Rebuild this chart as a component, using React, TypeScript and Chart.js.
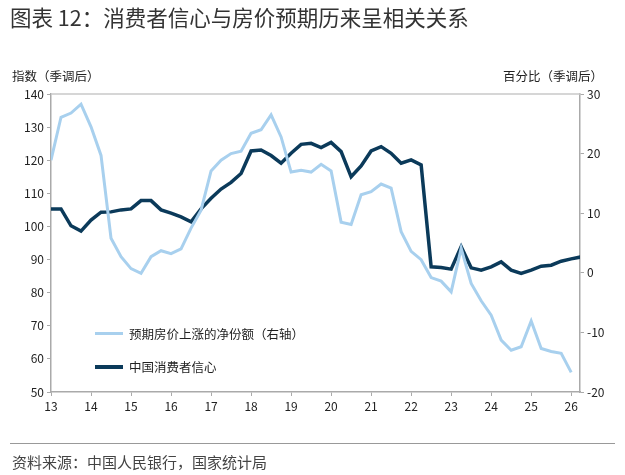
import React, { useEffect, useRef } from "react";
import { Chart, registerables } from "chart.js";
Chart.register(...registerables);

const startYear = 13;
const step = 0.25;
const confidence = [105.3,105.3,100.2,98.6,101.9,104.3,104.4,105.0,105.3,107.8,107.8,105.0,104.0,102.9,101.4,105.3,108.5,111.3,113.3,116.0,122.8,123.1,121.4,119.1,122.1,124.8,125.1,123.8,125.4,122.6,115.0,118.3,122.8,124.1,122.1,119.1,120.1,118.6,87.8,87.6,87.1,93.9,87.5,86.8,87.8,89.3,86.8,85.8,86.8,88.0,88.3,89.5,90.2,90.8];
const expectation = [18.9,26.1,26.8,28.3,24.5,19.7,5.8,2.7,0.7,-0.1,2.7,3.7,3.2,4.0,7.5,10.5,17.1,18.9,20.0,20.4,23.4,24.0,26.5,22.8,16.9,17.2,16.9,18.2,17.1,8.5,8.1,13.1,13.6,14.9,14.2,6.9,3.6,2.2,-0.8,-1.4,-3.2,4.1,-1.8,-4.7,-7.1,-11.3,-13.0,-12.4,-8.1,-12.7,-13.2,-13.5,-16.7];
const xTicks = [13,14,15,16,17,18,19,20,21,22,23,24,25,26];
const labelExp = "预期房价上涨的净份额（右轴）";
const labelConf = "中国消费者信心";
const DARK = "#0b3a5a";
const LIGHT = "#a8d0ee";
const FONT = "'Noto Sans CJK SC', 'Noto Sans', sans-serif";

export default function App() {
  const ref = useRef<HTMLCanvasElement>(null);
  useEffect(() => {
    const toPts = (a: number[]) => a.map((v, i) => ({ x: startYear + i * step, y: v }));
    const frame = {
      id: "frame",
      afterDraw(c: any) {
        const { ctx, chartArea: a } = c;
        ctx.save();
        ctx.strokeStyle = "#c8c8c8";
        ctx.lineWidth = 1.5;
        ctx.beginPath();
        ctx.moveTo(a.left, a.top);
        ctx.lineTo(a.right, a.top);
        ctx.stroke();
        ctx.restore();
      },
    };
    const chart = new Chart(ref.current!, {
      type: "line",
      data: {
        datasets: [
          { label: labelExp, data: toPts(expectation), yAxisID: "y1", borderColor: LIGHT, borderWidth: 3, pointRadius: 0, tension: 0 },
          { label: labelConf, data: toPts(confidence), yAxisID: "y", borderColor: DARK, borderWidth: 3.5, pointRadius: 0, tension: 0 },
        ],
      },
      options: {
        animation: false,
        responsive: false,
        layout: { padding: { top: 94, bottom: 60, left: 0, right: 0 } },
        plugins: { legend: { display: false }, tooltip: { enabled: false } },
        scales: {
          x: {
            type: "linear", min: 13, max: 26.22,
            afterBuildTicks: (s: any) => { s.ticks = xTicks.map((v) => ({ value: v })); },
            ticks: { color: "#222", font: { size: 12, family: FONT }, maxRotation: 0, callback: (v: any) => String(v) },
            grid: { drawOnChartArea: false, tickLength: 4, color: "#aaa" },
            border: { color: "#aaa", width: 1.5 },
            afterFit: (s: any) => { s.height = 23; },
          },
          y: {
            position: "left", min: 50, max: 140,
            ticks: { stepSize: 10, color: "#222", font: { size: 12, family: FONT } },
            grid: { drawOnChartArea: false, tickLength: 4, color: "#aaa" },
            border: { color: "#aaa", width: 1.5 },
            afterFit: (s: any) => { s.width = 51; },
          },
          y1: {
            position: "right", min: -20, max: 30,
            ticks: { stepSize: 10, color: "#222", font: { size: 12, family: FONT } },
            grid: { drawOnChartArea: false, tickLength: 4, color: "#aaa" },
            border: { color: "#aaa", width: 1.5 },
            afterFit: (s: any) => { s.width = 45; },
          },
        },
      },
      plugins: [frame],
    });
    return () => chart.destroy();
  }, []);

  const txt: React.CSSProperties = { position: "absolute", fontFamily: FONT, color: "#222", whiteSpace: "nowrap" };
  return (
    <div style={{ position: "fixed", left: 0, top: 0, width: 625, height: 475, background: "#fff", overflow: "hidden" }}>
      <canvas ref={ref} width={625} height={475} style={{ position: "absolute", left: 0, top: 0, width: 625, height: 475 }} />
      <div style={{ ...txt, left: 10, top: 1, fontSize: 21.5, color: "#333" }}>图表 12：消费者信心与房价预期历来呈相关关系</div>
      <div style={{ ...txt, left: 12, top: 66, fontSize: 12.5 }}>指数（季调后）</div>
      <div style={{ ...txt, right: 22, top: 66, fontSize: 12.5 }}>百分比（季调后）</div>
      <div style={{ position: "absolute", left: 95, top: 332, width: 28, height: 3, background: LIGHT }} />
      <div style={{ ...txt, left: 129, top: 324, fontSize: 12.5 }}>{labelExp}</div>
      <div style={{ position: "absolute", left: 95, top: 365, width: 28, height: 3.5, background: DARK }} />
      <div style={{ ...txt, left: 129, top: 357, fontSize: 12.5 }}>{labelConf}</div>
      <div style={{ position: "absolute", left: 10, top: 443, width: 605, height: 1, background: "#999" }} />
      <div style={{ ...txt, left: 12, top: 451, fontSize: 15, color: "#444" }}>资料来源：中国人民银行，国家统计局</div>
    </div>
  );
}
